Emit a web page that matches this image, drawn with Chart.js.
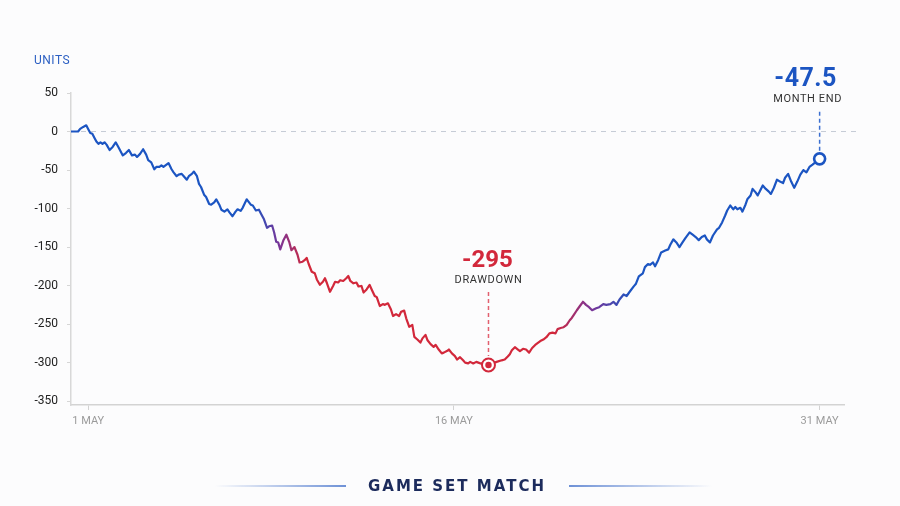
<!DOCTYPE html>
<html>
<head>
<meta charset="utf-8">
<title>Units</title>
<script src="https://cdn.jsdelivr.net/npm/chart.js@4.4.1/dist/chart.umd.min.js"></script>
<style>
  html, body { margin: 0; padding: 0; background: #fcfcfd; }
  #wrap { position: relative; width: 900px; height: 506px; overflow: hidden; }
  #myChart { position: absolute; left: 0; top: 0; }
  .rule { position: absolute; top: 485px; height: 2px; }
  .rule.left { left: 215px; width: 131px; background: linear-gradient(to right, rgba(110,145,214,0), #6e91d6); }
  .rule.right { left: 569px; width: 143px; background: linear-gradient(to right, #6e91d6, rgba(110,145,214,0)); }
  .brand { position: absolute; left: 347px; width: 220px; top: 476px; line-height: 20px; text-align: center;
           font-family: "DejaVu Sans", sans-serif; font-weight: bold; font-size: 15px; letter-spacing: 2px; color: #1c2b5c; }
</style>
</head>
<body>
<div id="wrap">
  <canvas id="myChart" width="900" height="506"></canvas>
  <div class="rule left"></div>
  <div class="brand">GAME SET MATCH</div>
  <div class="rule right"></div>
</div>
<script>
// hours since 1 May 00:00
const hours = [-17,-10,-8,-5,-2,0,2,4,6,8,10,12,14,16,18,21,24,27,30,34,37,40,43,46,48,51,54,57,59,62,
  65,67,70,72,74,77,79,82,84,87,89,92,94,97,99,102,104,107,109,111,114,116,119,121,124,126,129,131,134,137,
  139,142,145,147,
  150,152,156,160,162,165,168,171,173,176,178,181,183,185,187,189,192,195,198,200,
  203,206,208,211,213,215,217,220,223,225,228,231,233,235,238,241,243,246,248,251,
  254,256,258,261,264,266,269,271,274,277,279,282,284,287,290,292,295,298,300,303,
  306,308,311,313,316,319,321,324,327,329,332,334,337,340,342,345,348,350,353,355,
  358,361,363,366,369,371,374,376,379,382,384,387,390,394,
  402,407,410,413,415,417,420,423,425,428,431,434,437,440,442,445,448,451,454,457,
  460,462,465,468,471,474,476,478,481,484,487,490,493,496,500,503,507,510,514,517,
  520,523,527,530,533,537,539,542,546,548,551,553,556,558,561,564,568,571,573,576,
  579,582,585,588,592,595,598,601,604,607,609,612,615,619,621,624,627,629,632,635,
  637,639,642,644,647,649,652,654,657,659,661,664,667,670,672,675,678,681,684,686,
  689,692,695,698,701,704,707,710,713,720];

const units = [0,0,3.5,6,8,3,-2,-3,-8,-13,-16,-14,-16,-14,-17,-24,-20,-14,-21,-31,-28,-24,-31,-30,-33,-29,-23,-30,-37,-40,
  -49,-46,-46,-44,-46,-43,-41,-49,-53,-58,-56,-55,-58,-62.5,-58,-55,-52,-58,-68,-72,-82,-85,-94,-95,-92,-88,-95,-101.5,-104,-101,
  -105,-110,-104,-101,
  -103,-99,-88,-95,-96,-102.5,-101.5,-109,-114,-125,-123,-122,-131,-143,-144,-153,-141.5,-134,-144,-154,
  -150,-160,-170,-169,-167,-164,-172,-182,-184,-192,-199,-195,-190.5,-197,-208,-200.5,-195,-196,-193,-194,
  -190.5,-187.5,-194,-197,-196,-201,-200.5,-209,-205,-199,-205,-213.5,-215,-226.5,-224,-225,-223,-231,-239.5,-237,
  -239.5,-234,-232.5,-242.5,-253.5,-251,-266.5,-270,-274,-268.5,-264,-271,-276,-279.5,-277,-283,-288,-287,-285,-283,
  -288,-291.5,-296,-293,-297,-300,-301,-299,-301,-299,-300,-301.5,-299,-303,
  -299,-297,-296,-292,-289,-284,-280,-283,-285,-282,-283,-287,-281,-277,-275,-272,-270,-267,-262,-261,
  -262,-256.5,-255,-254,-251,-245,-242,-238,-232,-226.5,-221,-225,-228,-232,-229.5,-228,-224,-225,-224,-221,
  -225,-218,-211.5,-213.5,-208,-201,-198,-188,-184,-176,-172,-173,-170,-175,-167,-157,-154.5,-153,-147,-140,
  -144,-150,-144,-138,-131,-134,-137,-141,-137,-135,-140,-144,-135,-127,-125,-118,-109,-102.5,-96,-101,
  -98,-101,-99,-104,-95,-87.5,-83,-74.5,-79,-83,-78,-70,-74.5,-78,-81,-73,-62.5,-65,-67,-60,
  -55,-65,-73,-65,-56,-50,-53,-46,-43,-35.5];

const tickHours = [0, 360, 720];
const tickLabels = ["1 MAY", "16 MAY", "31 MAY"];
const yTicks = [50, 0, -50, -100, -150, -200, -250, -300, -350];

const drawdownLabel = "-295";
const drawdownText = "DRAWDOWN";
const endLabel = "-47.5";
const endText = "MONTH END";

const blue = "#1c55c2", purple = "#7a3597", red = "#d2283b";

function lineColor(context) {
  const chart = context.chart;
  const area = chart.chartArea;
  if (!area) return blue;
  const xs = chart.scales.x;
  const g = chart.ctx.createLinearGradient(area.left, 0, area.right, 0);
  const at = h => Math.min(1, Math.max(0, (xs.getPixelForValue(h) - area.left) / (area.right - area.left)));
  g.addColorStop(0, blue);
  g.addColorStop(at(163), blue);
  g.addColorStop(at(188), purple);
  g.addColorStop(at(214), red);
  g.addColorStop(at(458), red);
  g.addColorStop(at(495), purple);
  g.addColorStop(at(535), blue);
  g.addColorStop(1, blue);
  return g;
}

function dashedLine(ctx, x, y1, y2, color) {
  ctx.save();
  ctx.strokeStyle = color;
  ctx.lineWidth = 1.5;
  ctx.setLineDash([4, 3]);
  ctx.beginPath();
  ctx.moveTo(x, y1);
  ctx.lineTo(x, y2);
  ctx.stroke();
  ctx.restore();
}

const annotate = {
  id: "annotate",
  beforeDatasetsDraw(chart) {
    const { ctx, chartArea, scales } = chart;
    const y0 = scales.y.getPixelForValue(0);
    ctx.save();
    ctx.strokeStyle = "#c6ccd6";
    ctx.lineWidth = 1;
    ctx.setLineDash([5, 5]);
    ctx.beginPath();
    ctx.moveTo(chartArea.left, y0);
    ctx.lineTo(chartArea.right + 12, y0);
    ctx.stroke();
    ctx.restore();
  },
  afterDatasetsDraw(chart) {
    const { ctx, scales } = chart;

    ctx.save();
    ctx.fillStyle = "#2d60c3";
    ctx.font = "12px Roboto";
    ctx.letterSpacing = "0.5px";
    ctx.textAlign = "left";
    ctx.textBaseline = "middle";
    ctx.fillText("UNITS", 34, 61);
    ctx.restore();

    // drawdown
    const iMin = units.indexOf(Math.min(...units));
    const mx = scales.x.getPixelForValue(hours[iMin]);
    const my = scales.y.getPixelForValue(units[iMin]);
    dashedLine(ctx, mx, my - 73, my - 9, "#e2606f");
    ctx.save();
    ctx.textAlign = "center";
    ctx.fillStyle = red;
    ctx.font = "bold 24px Roboto";
    ctx.textBaseline = "alphabetic";
    ctx.fillText(drawdownLabel, mx - 1, my - 98);
    ctx.fillStyle = "#333";
    ctx.font = "11px Roboto";
    ctx.letterSpacing = "0.6px";
    ctx.textBaseline = "middle";
    ctx.fillText(drawdownText, mx, my - 85);
    ctx.restore();
    ctx.save();
    ctx.beginPath();
    ctx.arc(mx, my, 6.5, 0, Math.PI * 2);
    ctx.fillStyle = "#fff";
    ctx.fill();
    ctx.lineWidth = 2;
    ctx.strokeStyle = red;
    ctx.stroke();
    ctx.beginPath();
    ctx.arc(mx, my, 3.2, 0, Math.PI * 2);
    ctx.fillStyle = red;
    ctx.fill();
    ctx.restore();

    // month end
    const iEnd = units.length - 1;
    const ex = scales.x.getPixelForValue(hours[iEnd]);
    const ey = scales.y.getPixelForValue(units[iEnd]);
    dashedLine(ctx, ex, ey - 47, ey - 8, "#3b6fd0");
    ctx.save();
    ctx.textAlign = "center";
    ctx.fillStyle = blue;
    ctx.font = "bold 25px Roboto";
    ctx.letterSpacing = "0.5px";
    ctx.textBaseline = "alphabetic";
    ctx.fillText(endLabel, ex - 14, ey - 73);
    ctx.fillStyle = "#333";
    ctx.font = "11px Roboto";
    ctx.letterSpacing = "0.6px";
    ctx.textBaseline = "middle";
    ctx.fillText(endText, ex - 12, ey - 60);
    ctx.restore();
    ctx.save();
    ctx.beginPath();
    ctx.arc(ex, ey, 5.5, 0, Math.PI * 2);
    ctx.fillStyle = "#fff";
    ctx.fill();
    ctx.lineWidth = 2.6;
    ctx.strokeStyle = blue;
    ctx.stroke();
    ctx.restore();
  }
};

const points = hours.map((h, i) => ({ x: h, y: units[i] }));

window.myChart = new Chart("myChart", {
  type: "line",
  data: {
    datasets: [{
      data: points,
      borderColor: lineColor,
      borderWidth: 2.2,
      pointRadius: 0,
      tension: 0,
      borderJoinStyle: "round",
      fill: false
    }]
  },
  options: {
    responsive: false,
    animation: false,
    layout: { padding: { top: 93, right: 56, left: 0, bottom: 0 } },
    plugins: { legend: { display: false }, tooltip: { enabled: false } },
    scales: {
      x: {
        type: "linear",
        min: -17,
        max: 744,
        afterBuildTicks: axis => { axis.ticks = tickHours.map(v => ({ value: v })); },
        afterFit: scale => { scale.height = 101; },
        ticks: {
          callback: v => tickLabels[tickHours.indexOf(v)],
          color: "#9b9b9b",
          font: { family: "Roboto", size: 11 },
          padding: 5,
          maxRotation: 0,
          autoSkip: false
        },
        grid: { drawOnChartArea: false, tickLength: 5, color: "#d2d2d2" },
        border: { color: "#d3d3d3", width: 1.5 }
      },
      y: {
        min: -355,
        max: 50,
        afterBuildTicks: axis => { axis.ticks = yTicks.map(v => ({ value: v })); },
        afterFit: scale => { scale.width = 71; },
        ticks: {
          color: "#222",
          font: { family: "Roboto", size: 12 },
          padding: 9
        },
        grid: { drawOnChartArea: false, tickLength: 4, color: "#d6d6d6" },
        border: { color: "#d8d8d8", width: 1.5 }
      }
    }
  },
  plugins: [annotate]
});
</script>
</body>
</html>
